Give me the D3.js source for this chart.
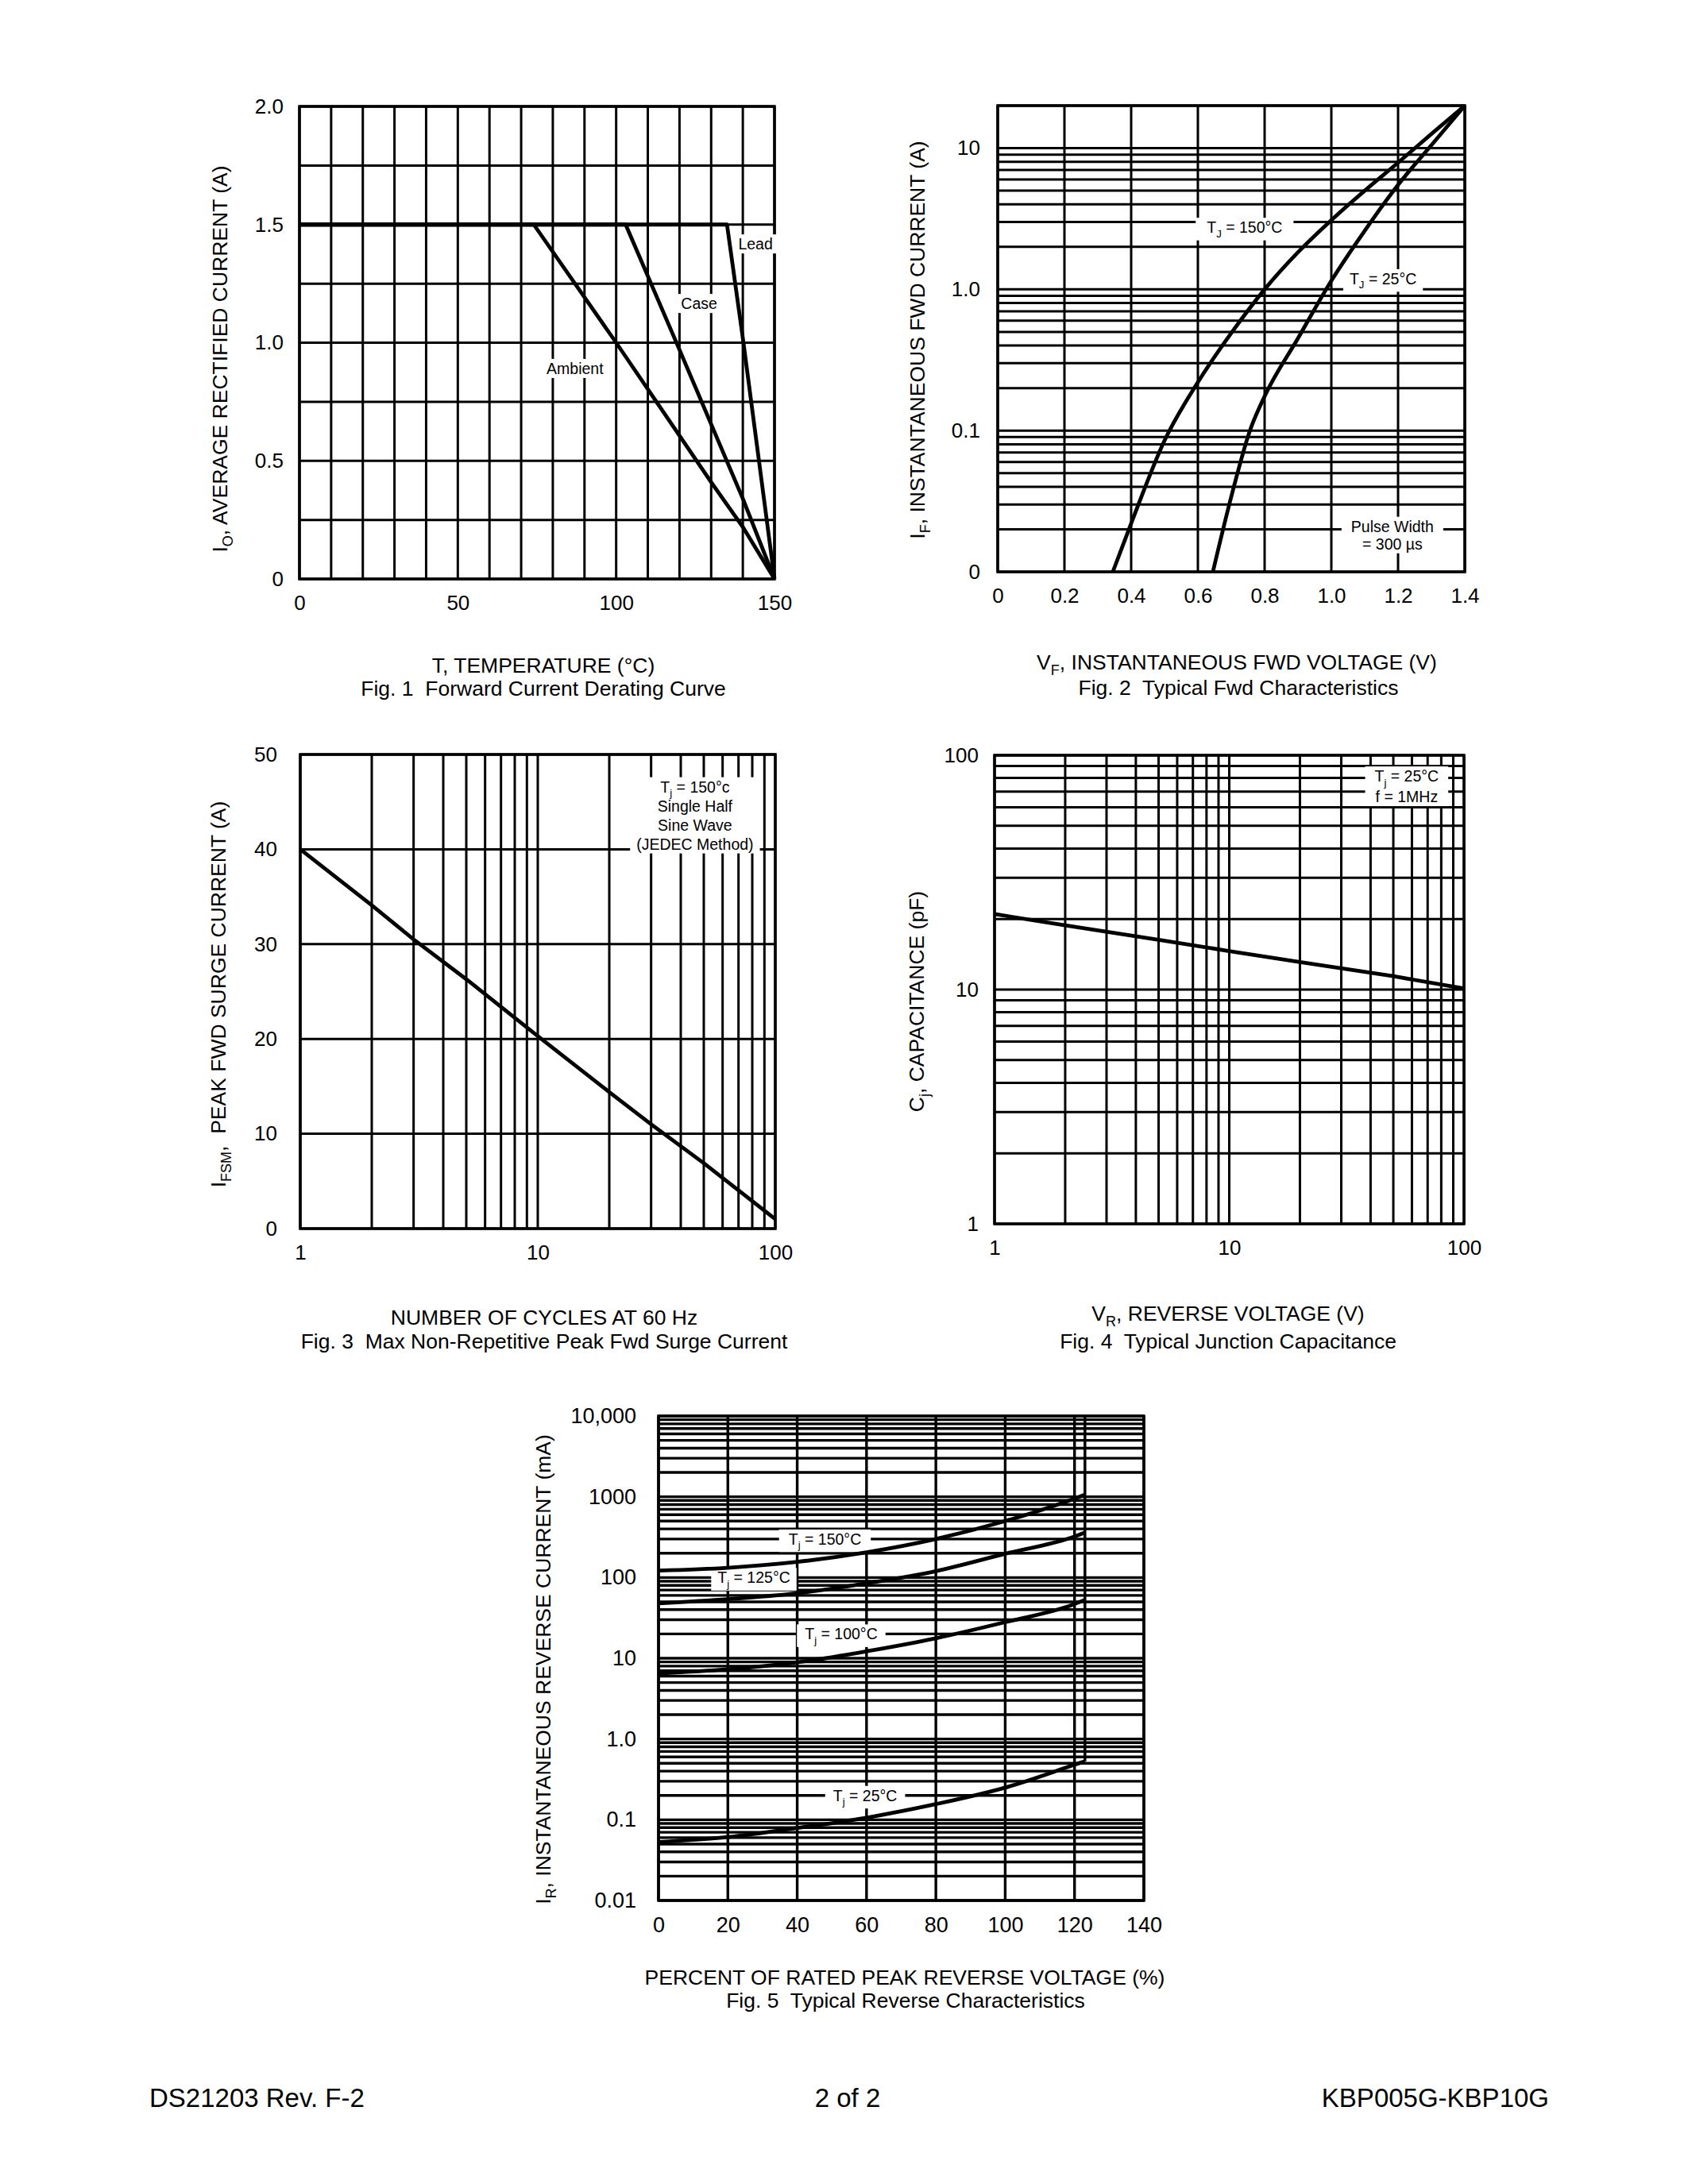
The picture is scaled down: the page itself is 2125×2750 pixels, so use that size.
<!DOCTYPE html>
<html>
<head>
<meta charset="utf-8">
<script src="https://cdn.jsdelivr.net/npm/d3@7"></script>
<style>
body { margin: 0; background: #fff; }
svg text { font-family: "Liberation Sans", Arial, Helvetica, sans-serif; fill: #000; white-space: pre; }
</style>
</head>
<body>
<svg id="page" width="2125" height="2750"></svg>
<script>
// ---------- data ----------

// Fig 1 - derating (temperature degC, current A)
var fig1XTicks = [0, 50, 100, 150];
var fig1YTicks = [0, 0.5, 1.0, 1.5, 2.0];
var fig1YLabels = ["0", "0.5", "1.0", "1.5", "2.0"];
var ambientCurve = [[0, 1.5], [74, 1.5], [100, 1.0], [130, 0.41], [140, 0.22], [150, 0]];
var caseCurve = [[0, 1.5], [103, 1.5], [120, 0.97], [140, 0.34], [150, 0]];
var leadCurve = [[0, 1.5], [135, 1.5], [140, 1.02], [150, 0]];

// Fig 2 - forward characteristics (V, A)
var fig2XTicks = [0, 0.2, 0.4, 0.6, 0.8, 1.0, 1.2, 1.4];
var fig2XLabels = ["0", "0.2", "0.4", "0.6", "0.8", "1.0", "1.2", "1.4"];
var fig2YTicks = [0.01, 0.1, 1, 10];
var fig2YLabels = ["0", "0.1", "1.0", "10"];
var fwd150 = [[0.345, 0.01], [0.4, 0.022], [0.5, 0.085], [0.6, 0.22], [0.7, 0.49], [0.8, 1.0],
              [0.9, 1.83], [1.0, 3.09], [1.1, 5.0], [1.2, 7.9], [1.3, 12.6], [1.4, 20]];
var fwd25 = [[0.645, 0.01], [0.7, 0.034], [0.756, 0.1], [0.8, 0.175], [0.9, 0.45], [1.0, 1.15],
             [1.1, 2.6], [1.2, 5.5], [1.3, 10.5], [1.4, 20]];

// Fig 3 - surge current (cycles, A)
var fig3XTicks = [1, 10, 100];
var fig3YTicks = [0, 10, 20, 30, 40, 50];
var surgeCurve = [[1, 40], [2, 34.1], [3, 30.5], [5, 26.3], [10, 20.3], [20, 14.4], [30, 11], [50, 6.9], [100, 1.0]];

// Fig 4 - junction capacitance (V, pF)
var fig4XTicks = [1, 10, 100];
var fig4YTicks = [1, 10, 100];
var capCurve = [[1, 21], [2, 18.8], [5, 16.3], [10, 14.6], [20, 13.1], [50, 11.4], [100, 10.1]];

// Fig 5 - reverse characteristics (% rated voltage, mA)
var fig5XTicks = [0, 20, 40, 60, 80, 100, 120, 140];
var fig5YTicks = [0.01, 0.1, 1, 10, 100, 1000, 10000];
var fig5YLabels = ["0.01", "0.1", "1.0", "10", "100", "1000", "10,000"];
var rev150 = [[0, 122], [20, 132], [40, 156], [60, 205], [80, 300], [100, 500], [120, 950], [123, 1060]];
var rev125 = [[0, 48], [20, 54], [40, 64], [60, 85], [80, 120], [100, 197], [120, 322], [123, 360]];
var rev100 = [[0, 6.5], [20, 7.3], [40, 8.9], [60, 12.2], [80, 17.7], [100, 28], [120, 47], [123, 53]];
var rev25 = [[0, 0.053], [20, 0.061], [40, 0.079], [60, 0.106], [80, 0.156], [100, 0.25], [120, 0.48], [123, 0.53]];
var revLimit = 123; // vertical end line of the curves

var footer = ["DS21203 Rev. F-2", "2 of 2", "KBP005G-KBP10G"];

// ---------- drawing ----------
var svg = d3.select("#page");
var LABEL = 26, TITLE = 26.5, NOTE = 19.5;

// "_X" or "_{XYZ}" marks a subscript
function richText(sel, str, size) {
    var subSize = size * 0.68, shift = size * 0.28, back = 0;
    str.split(/(_\{[^}]*\}|_[^{])/).forEach(function (s) {
        if (!s) return;
        if (s.charAt(0) === "_") {
            var t = s.charAt(1) === "{" ? s.slice(2, -1) : s.slice(1);
            sel.append("tspan").attr("font-size", subSize).attr("dy", shift).text(t);
            back = -shift;
        } else {
            sel.append("tspan").attr("dy", back || null).text(s);
            back = 0;
        }
    });
}

function panel(cfg) {
    var x = cfg.x, y = cfg.y;
    var x0 = x.range()[0], x1 = x.range()[1], yb = y.range()[0], yt = y.range()[1];
    var gw = cfg.gridWidth || 3;
    var g = svg.append("g");

    //grid
    g.append("g").selectAll("line").data(cfg.xGrid).enter().append("line")
        .attr("x1", x).attr("x2", x).attr("y1", yt).attr("y2", yb)
        .attr("stroke", "#000").attr("stroke-width", gw);
    g.append("g").selectAll("line").data(cfg.yGrid).enter().append("line")
        .attr("y1", y).attr("y2", y).attr("x1", x0).attr("x2", x1)
        .attr("stroke", "#000").attr("stroke-width", gw);
    g.append("rect").attr("x", x0).attr("y", yt)
        .attr("width", x1 - x0).attr("height", yb - yt)
        .attr("fill", "none").attr("stroke", "#000").attr("stroke-width", 3.5);

    //tick labels
    var ya = d3.axisLeft(y).tickValues(cfg.yTicks).tickSize(0).tickPadding(cfg.yPad)
        .tickFormat(function (d, i) { return cfg.yLabels ? cfg.yLabels[i] : String(d); });
    g.append("g").attr("transform", "translate(" + x0 + ",0)").call(ya)
        .attr("font-size", cfg.labelSize || LABEL).attr("font-family", null)
        .call(function (a) { a.select(".domain").remove(); });
    var xa = d3.axisBottom(x).tickValues(cfg.xTicks).tickSize(0).tickPadding(21)
        .tickFormat(function (d, i) { return cfg.xLabels ? cfg.xLabels[i] : String(d); });
    g.append("g").attr("transform", "translate(0," + yb + ")").call(xa)
        .attr("font-size", cfg.labelSize || LABEL).attr("font-family", null)
        .call(function (a) { a.select(".domain").remove(); });

    //annotation boxes
    (cfg.notes || []).forEach(function (n) {
        var ng = g.append("g");
        var cx = x(n.at[0]), cy = y(n.at[1]);
        n.lines.forEach(function (line, i) {
            var t = ng.append("text").attr("x", cx).attr("y", cy + 7 + i * (n.lh || 0))
                .attr("text-anchor", "middle").attr("font-size", NOTE);
            richText(t, line, NOTE);
        });
        var bb = ng.node().getBBox();
        var px = n.padX || 8;
        ng.insert("rect", "text")
            .attr("x", bb.x - px).attr("y", bb.y - 1)
            .attr("width", bb.width + 2 * px).attr("height", bb.height + 2)
            .attr("fill", "#fff");
    });

    //curves
    var line = d3.line().x(function (d) { return x(d[0]); }).y(function (d) { return y(d[1]); })
        .curve(cfg.curve || d3.curveLinear);
    g.append("g").selectAll("path").data(cfg.series).enter().append("path")
        .attr("d", line).attr("fill", "none").attr("stroke", "#000")
        .attr("stroke-width", 4.8).attr("stroke-linejoin", "round");

    if (cfg.extra) cfg.extra(g, x, y);

    //titles
    var yt0 = g.append("text").attr("text-anchor", "middle").attr("font-size", TITLE)
        .attr("transform", "translate(" + (cfg.yTitleAt[0] + 9.5) + "," + cfg.yTitleAt[1] + ") rotate(-90)");
    richText(yt0, cfg.yTitle, TITLE);
    var xt0 = g.append("text").attr("text-anchor", "middle").attr("font-size", TITLE)
        .attr("x", cfg.xTitleAt[0]).attr("y", cfg.xTitleAt[1]);
    richText(xt0, cfg.xTitle, TITLE);
    g.append("text").attr("text-anchor", "middle").attr("font-size", TITLE)
        .attr("x", cfg.captionAt[0]).attr("y", cfg.captionAt[1]).text(cfg.caption);
}

// Fig 1
var x1s = d3.scaleLinear().domain([0, 150]).range([377, 975]);
var y1s = d3.scaleLinear().domain([0, 2]).range([729, 134]);
panel({
    x: x1s, y: y1s,
    xGrid: x1s.ticks(15), yGrid: d3.range(0, 2.0001, 0.25),
    xTicks: fig1XTicks, yTicks: fig1YTicks, yLabels: fig1YLabels, yPad: 20,
    series: [ambientCurve, caseCurve, leadCurve],
    notes: [
        { at: [144, 1.418], lines: ["Lead"] },
        { at: [126.2, 1.166], lines: ["Case"] },
        { at: [87, 0.891], lines: ["Ambient"] }
    ],
    yTitle: "I_O, AVERAGE RECTIFIED CURRENT (A)", yTitleAt: [276, 452],
    xTitle: "T, TEMPERATURE (°C)", xTitleAt: [684, 847],
    caption: "Fig. 1  Forward Current Derating Curve", captionAt: [684, 876]
});

// Fig 2
var x2s = d3.scaleLinear().domain([0, 1.4]).range([1256, 1844]);
var y2s = d3.scaleLog().domain([0.01, 20]).range([720, 133]);
panel({
    x: x2s, y: y2s,
    xGrid: fig2XTicks, yGrid: y2s.ticks(),
    xTicks: fig2XTicks, xLabels: fig2XLabels, yTicks: fig2YTicks, yLabels: fig2YLabels, yPad: 22,
    series: [fwd150, fwd25], curve: d3.curveMonotoneX,
    notes: [
        { at: [0.74, 2.75], lines: ["T_J = 150°C"], padX: 14 },
        { at: [1.155, 1.19], lines: ["T_J = 25°C"] },
        { at: [1.183, 0.021], lines: ["Pulse Width", "= 300 µs"], lh: 22, padX: 12 }
    ],
    yTitle: "I_F, INSTANTANEOUS FWD CURRENT (A)", yTitleAt: [1154, 428],
    xTitle: "V_F, INSTANTANEOUS FWD VOLTAGE (V)", xTitleAt: [1557, 843],
    caption: "Fig. 2  Typical Fwd Characteristics", captionAt: [1559, 875]
});

// Fig 3
var x3s = d3.scaleLog().domain([1, 100]).range([378, 976]);
var y3s = d3.scaleLinear().domain([0, 50]).range([1547, 950]);
panel({
    x: x3s, y: y3s,
    xGrid: x3s.ticks(), yGrid: fig3YTicks,
    xTicks: fig3XTicks, yTicks: fig3YTicks, yPad: 29,
    series: [surgeCurve],
    notes: [
        { at: [45.9, 46.6], lines: ["T_j = 150°c", "Single Half", "Sine Wave", "(JEDEC Method)"], lh: 24 }
    ],
    yTitle: "I_{FSM},  PEAK FWD SURGE CURRENT (A)", yTitleAt: [274, 1252],
    xTitle: "NUMBER OF CYCLES AT 60 Hz", xTitleAt: [685, 1668],
    caption: "Fig. 3  Max Non-Repetitive Peak Fwd Surge Current", captionAt: [685, 1698]
});

// Fig 4
var x4s = d3.scaleLog().domain([1, 100]).range([1252, 1843]);
var y4s = d3.scaleLog().domain([1, 100]).range([1541, 951]);
panel({
    x: x4s, y: y4s,
    xGrid: x4s.ticks(), yGrid: y4s.ticks(),
    xTicks: fig4XTicks, yTicks: fig4YTicks, yPad: 20,
    series: [capCurve],
    notes: [
        { at: [57, 81.6], lines: ["T_j = 25°C", "f = 1MHz"], lh: 26, padX: 12 }
    ],
    yTitle: "C_j, CAPACITANCE (pF)", yTitleAt: [1153, 1261],
    xTitle: "V_R, REVERSE VOLTAGE (V)", xTitleAt: [1546, 1663],
    caption: "Fig. 4  Typical Junction Capacitance", captionAt: [1546, 1698]
});

// Fig 5
var x5s = d3.scaleLinear().domain([0, 140]).range([829, 1440]);
var y5s = d3.scaleLog().domain([0.01, 10000]).range([2393, 1783]);
panel({
    x: x5s, y: y5s, gridWidth: 3.4, labelSize: 27,
    xGrid: fig5XTicks, yGrid: y5s.ticks(),
    xTicks: fig5XTicks, yTicks: fig5YTicks, yLabels: fig5YLabels, yPad: 28,
    series: [rev150, rev125, rev100, rev25], curve: d3.curveMonotoneX,
    notes: [
        { at: [48, 300], lines: ["T_j = 150°C"], padX: 12 },
        { at: [27.5, 100], lines: ["T_j = 125°C"] },
        { at: [52.7, 20], lines: ["T_j = 100°C"], padX: 10 },
        { at: [59.6, 0.2], lines: ["T_j = 25°C"], padX: 10 }
    ],
    extra: function (g, x, y) {
        g.append("line")
            .attr("x1", x(revLimit)).attr("x2", x(revLimit))
            .attr("y1", y(10000)).attr("y2", y(rev25[rev25.length - 1][1]))
            .attr("stroke", "#000").attr("stroke-width", 3.5);
    },
    yTitle: "I_R, INSTANTANEOUS REVERSE CURRENT (mA)", yTitleAt: [683, 2102],
    xTitle: "PERCENT OF RATED PEAK REVERSE VOLTAGE (%)", xTitleAt: [1139, 2499],
    caption: "Fig. 5  Typical Reverse Characteristics", captionAt: [1140, 2528]
});

// footer
svg.append("text").attr("x", 188).attr("y", 2653).attr("font-size", 33).text(footer[0]);
svg.append("text").attr("x", 1067).attr("y", 2653).attr("font-size", 33).attr("text-anchor", "middle").text(footer[1]);
svg.append("text").attr("x", 1950).attr("y", 2653).attr("font-size", 33).attr("text-anchor", "end").text(footer[2]);
</script>
</body>
</html>
